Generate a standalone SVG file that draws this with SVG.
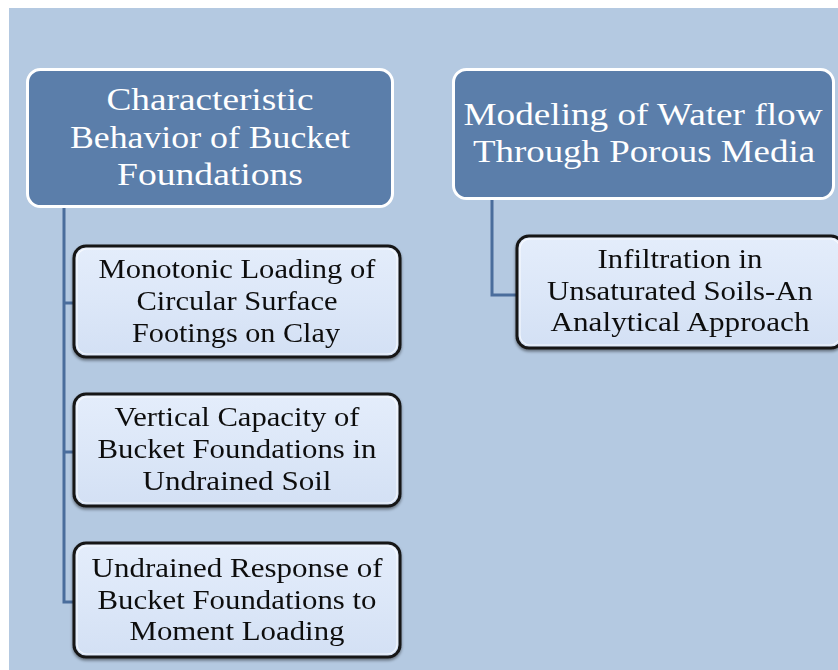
<svg xmlns="http://www.w3.org/2000/svg" width="838" height="670" viewBox="0 0 838 670">
<defs>
<linearGradient id="childFill" x1="0" y1="0" x2="0" y2="1">
<stop offset="0" stop-color="#e4edfb"/>
<stop offset="0.5" stop-color="#dce7f8"/>
<stop offset="1" stop-color="#d3e0f4"/>
</linearGradient>
<filter id="shadow" x="-10%" y="-10%" width="120%" height="130%">
<feDropShadow dx="0" dy="2" stdDeviation="1.5" flood-color="#000" flood-opacity="0.45"/>
</filter>
</defs>
<style>
.head rect{fill:#5b7eaa;stroke:#ffffff;stroke-width:3}
.head text{fill:#ffffff;font-family:"Liberation Serif","DejaVu Serif",serif;font-size:32px;text-anchor:middle}
.child rect.box{fill:url(#childFill);stroke:#151515;stroke-width:3}
.child rect.hl{fill:none;stroke:#ffffff;stroke-opacity:0.7;stroke-width:1.2}
.child text{fill:#111111;font-family:"Liberation Serif","DejaVu Serif",serif;font-size:26.5px;text-anchor:middle}
.conn path{fill:none;stroke:#4a6d9c;stroke-width:3}
</style>
<rect x="0" y="0" width="838" height="670" fill="#ffffff"/>
<rect x="9" y="8" width="829" height="662" fill="#b4c9e1"/>

<g class="conn" id="connectors">
<path d="M64,207 V602 H74 M64,303 H74 M64,452 H74"/>
<path d="M492,198 V295 H517"/>
</g>

<g class="head" id="node-bucket">
<rect x="27.5" y="69.5" width="365" height="137" rx="13"/>
<text x="210" y="110" textLength="207" lengthAdjust="spacingAndGlyphs">Characteristic</text>
<text x="210" y="148" textLength="280" lengthAdjust="spacingAndGlyphs">Behavior of Bucket</text>
<text x="210" y="185" textLength="186" lengthAdjust="spacingAndGlyphs">Foundations</text>
</g>

<g class="head" id="node-water">
<rect x="453.5" y="69.5" width="380" height="129" rx="13"/>
<text x="643" y="125" font-size="33" textLength="359" lengthAdjust="spacingAndGlyphs">Modeling of Water flow</text>
<text x="644" y="162" font-size="33" textLength="342" lengthAdjust="spacingAndGlyphs">Through Porous Media</text>
</g>

<g class="child" id="node-monotonic" filter="url(#shadow)">
<rect class="box" x="74" y="246" width="326" height="111" rx="12"/>
<rect class="hl" x="77" y="249" width="320" height="105" rx="10"/>
<text x="237" y="278" textLength="277" lengthAdjust="spacingAndGlyphs">Monotonic Loading of</text>
<text x="237" y="310" textLength="201" lengthAdjust="spacingAndGlyphs">Circular Surface</text>
<text x="236" y="342" textLength="208" lengthAdjust="spacingAndGlyphs">Footings on Clay</text>
</g>

<g class="child" id="node-vertical" filter="url(#shadow)">
<rect class="box" x="74" y="394" width="326" height="112" rx="12"/>
<rect class="hl" x="77" y="397" width="320" height="106" rx="10"/>
<text x="237" y="426" textLength="245" lengthAdjust="spacingAndGlyphs">Vertical Capacity of</text>
<text x="237" y="458" textLength="279" lengthAdjust="spacingAndGlyphs">Bucket Foundations in</text>
<text x="237" y="490" textLength="189" lengthAdjust="spacingAndGlyphs">Undrained Soil</text>
</g>

<g class="child" id="node-undrained" filter="url(#shadow)">
<rect class="box" x="74" y="543" width="326" height="114" rx="12"/>
<rect class="hl" x="77" y="546" width="320" height="108" rx="10"/>
<text x="237" y="577" textLength="291" lengthAdjust="spacingAndGlyphs">Undrained Response of</text>
<text x="237" y="609" textLength="279" lengthAdjust="spacingAndGlyphs">Bucket Foundations to</text>
<text x="237" y="640" textLength="215" lengthAdjust="spacingAndGlyphs">Moment Loading</text>
</g>

<g class="child" id="node-infiltration" filter="url(#shadow)">
<rect class="box" x="517" y="236" width="326" height="112" rx="12"/>
<rect class="hl" x="520" y="239" width="320" height="106" rx="10"/>
<text x="680" y="268" textLength="165" lengthAdjust="spacingAndGlyphs">Infiltration in</text>
<text x="680" y="300" textLength="266" lengthAdjust="spacingAndGlyphs">Unsaturated Soils-An</text>
<text x="680" y="331" textLength="259" lengthAdjust="spacingAndGlyphs">Analytical Approach</text>
</g>
</svg>
